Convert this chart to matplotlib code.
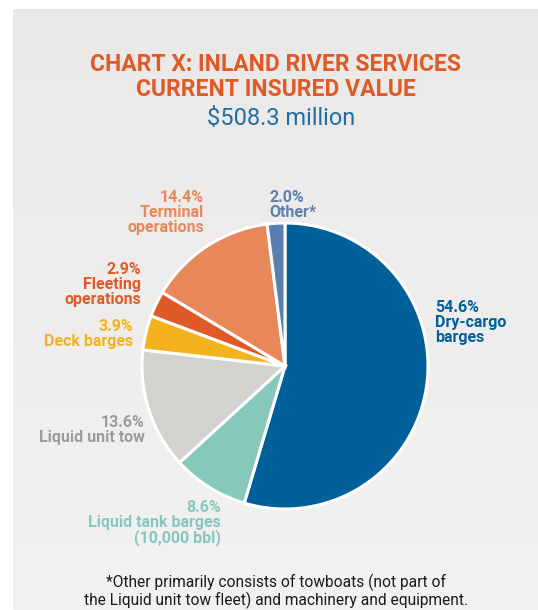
import numpy as np
import matplotlib

matplotlib.use("Agg")
import matplotlib.pyplot as plt
from matplotlib.colors import LinearSegmentedColormap

# Verdier i prosent, med klokka fra toppen
kategorier = [
    "Dry-cargo\nbarges",
    "Liquid tank barges\n(10,000 bbl)",
    "Liquid unit tow",
    "Deck barges",
    "Fleeting\noperations",
    "Terminal\noperations",
    "Other*",
]
andeler = [54.6, 8.6, 13.6, 3.9, 2.9, 14.4, 2.0]
farger = ["#00609a", "#86c8b9", "#d3d2cd", "#f2b31e", "#e05a27", "#e8875a", "#5b7fae"]
tekstfarger = ["#00609a", "#86c8b9", "#9c9c9c", "#f2b31e", "#e05a27", "#e8875a", "#5b7fae"]

tittel = "CHART X: INLAND RIVER SERVICES\nCURRENT INSURED VALUE"
undertittel = "$508.3 million"
fotnote = ("*Other primarily consists of towboats (not part of\n"
           "the Liquid unit tow fleet) and machinery and equipment.")

# ============================================================================
# OPPSETT: piksler -> dataenheter (1 enhet = paiens radius)
# ============================================================================

B, H = 538, 610
CX, CY, R = 285, 366, 143


def px(x, y):
    """Konverterer pikselposisjon (fra √∏vre venstre hj√∏rne) til dataenheter"""
    return (x - CX) / R, (CY - y) / R


fig = plt.figure(figsize=(B / 100, H / 100), dpi=100)
ax = fig.add_axes([0, 0, 1, 1])
fig.patch.set_facecolor("white")

plt.rcParams["font.family"] = ["Roboto", "DejaVu Sans"]

# Lys gr√• bakgrunnsflate med svak gradient
x0, y0 = px(13, 9)
x1, y1 = px(B, H)
grad = np.linspace(0, 1, 256).reshape(-1, 1)
cmap = LinearSegmentedColormap.from_list("bg", ["#ebe9e7", "#f2f2f2"])
ax.imshow(grad, cmap=cmap, extent=[x0, x1, y1, y0], aspect="auto", zorder=0)

ax.pie(
    andeler,
    colors=farger,
    startangle=90,
    counterclock=False,
    radius=1,
    wedgeprops=dict(edgecolor="white", linewidth=2.2),
)
for w in ax.patches:
    w.set_zorder(2)

ax.set_xlim(-CX / R, (B - CX) / R)
ax.set_ylim(-(H - CY) / R, CY / R)
ax.set_aspect("auto")
ax.axis("off")

# Titler
ax.text(*px(276, 77), tittel, ha="center", va="center", fontsize=16.5,
        fontweight="bold", color="#e05a27", linespacing=1.12, zorder=3)
ax.text(*px(281, 118), undertittel, ha="center", va="center", fontsize=17,
        color="#1f6fa3", zorder=3)

# Etiketter: (x, y for f√∏rste linje, justering)
plassering = [
    (435, 308, "left"),
    (221, 508, "right"),
    (145, 423, "right"),
    (133, 327, "right"),
    (141, 270, "right"),
    (204, 198, "right"),
    (269, 198, "left"),
]
for navn, verdi, farge, (lx, ly, ha) in zip(kategorier, andeler, tekstfarger, plassering):
    ax.text(*px(lx, ly - 8), f"{verdi:.1f}%\n{navn}", ha=ha, va="top",
            fontsize=11.5, fontweight="bold", color=farge, linespacing=0.98, zorder=3)

ax.text(*px(276, 591), fotnote, ha="center", va="center", fontsize=11.2,
        color="#1a1a1a", linespacing=1.05, zorder=3)

fig.savefig("out.png", dpi=100)
